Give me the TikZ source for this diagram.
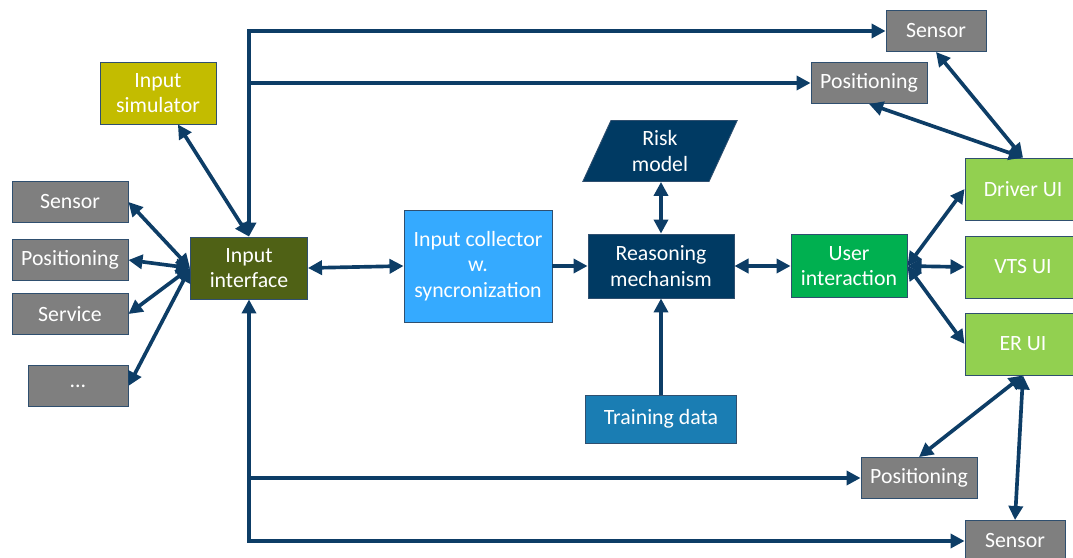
\documentclass[tikz,border=0pt]{standalone}
\usepackage{fontspec}
\setmainfont{Carlito}
\usetikzlibrary{shapes.geometric, arrows.meta, positioning, calc}
\definecolor{boxGrey}{HTML}{7F7F7F}
\definecolor{boxEdge}{HTML}{2F4F6F}
\definecolor{simYellow}{HTML}{C3BC00}
\definecolor{ifaceOlive}{HTML}{4F6115}
\definecolor{collBlue}{HTML}{35AAFF}
\definecolor{reasonNavy}{HTML}{003A63}
\definecolor{trainBlue}{HTML}{1A7DB3}
\definecolor{userGreen}{HTML}{00B050}
\definecolor{uiGreen}{HTML}{92D050}
\definecolor{linkNavy}{HTML}{0D3D66}
\tikzset{
  blk/.style={draw=boxEdge, line width=0.6pt, fill=#1, text=white, align=center,
              font=\fontsize{15.5}{18}\selectfont, inner sep=2pt},
  src/.style={blk=boxGrey, minimum width=2.9cm, minimum height=1.025cm},
  uibox/.style={blk=uiGreen, minimum width=2.9cm, minimum height=1.55cm},
  link/.style={-{Triangle[length=10pt,width=10pt]}, draw=linkNavy, line width=2.6pt},
  dlink/.style={link, {Triangle[length=10pt,width=10pt]}-{Triangle[length=10pt,width=10pt]}},
}

\begin{document}
\begin{tikzpicture}[x=0.025cm, y=-0.025cm]
\clip (0,0) rectangle (1073,558);
\fill[white] (0,0) rectangle (1073,558);
% sources and sinks
\node[src, minimum width=2.5cm] (sensT) at (936,31) {Sensor};
\node[src] (posT) at (869,83) {Positioning};
\node[blk=simYellow, minimum width=2.9cm, minimum height=1.55cm] (isim) at (158,93) {Input\\simulator};
\node[src] (sensL) at (70,202) {Sensor};
\node[src] (posL) at (70,260) {Positioning};
\node[src] (servL) at (70,314) {Service};
\node[src, minimum width=2.5cm] (moreL) at (78,386) {...};
% processing chain
\node[blk=ifaceOlive, minimum width=2.925cm, minimum height=1.55cm] (iface) at (249,268) {Input\\interface};
\node[blk=collBlue, minimum width=3.7cm, minimum height=2.8cm] (coll) at (478,266) {Input collector\\w.\\syncronization};
\node[blk=reasonNavy, trapezium, trapezium left angle=69, trapezium right angle=111,
      trapezium stretches=true, minimum width=3.875cm, minimum height=1.525cm] (risk) at (660,151) {Risk\\model};
\node[blk=reasonNavy, minimum width=3.65cm, minimum height=1.6cm] (reason) at (661,266) {Reasoning\\mechanism};
\node[blk=trainBlue, minimum width=3.775cm, minimum height=1.2cm] (train) at (661,419) {Training data};
\node[blk=userGreen, minimum width=2.9cm, minimum height=1.575cm] (user) at (849,266) {User\\interaction};
\node[uibox] (drvUI) at (1023,189) {Driver UI};
\node[uibox] (vtsUI) at (1023,267) {VTS UI};
\node[uibox] (erUI) at (1023,344) {ER UI};
\node[src] (posB) at (919,478) {Positioning};
\node[src, minimum width=2.5cm] (sensB) at (1015,541) {Sensor};

% input side
\draw[dlink] (isim) -- (iface.north);
\foreach \s in {sensL,posL,servL,moreL} \draw[dlink] (\s.east) -- (iface.west);
\draw[dlink] (iface.north) |- (sensT.west);
\coordinate (tapT) at (iface.north |- posT.west);
\draw[link] (tapT) -- (posT.west);
\draw[dlink] (iface.south) |- (sensB.west);
\coordinate (tapB) at (iface.south |- posB.west);
\draw[link] (tapB) -- (posB.west);

% main chain
\draw[dlink] (iface.east) -- (coll.west);
\draw[link] (coll.east) -- (reason.west);
\draw[dlink] (reason.north) -- (reason.north |- risk.south);
\draw[link] (train.north) -- (reason.south);
\draw[dlink] (reason.east) -- (user.west);
\foreach \u in {drvUI,vtsUI,erUI} \draw[dlink] (user.east) -- (\u.west);

% user interfaces
\draw[dlink] (drvUI.north) -- (sensT.south);
\draw[dlink] (drvUI.north) -- (posT.south);
\draw[dlink] (erUI.south) -- (posB.north);
\draw[dlink] (erUI.south) -- (sensB.north);
\end{tikzpicture}
\end{document}
